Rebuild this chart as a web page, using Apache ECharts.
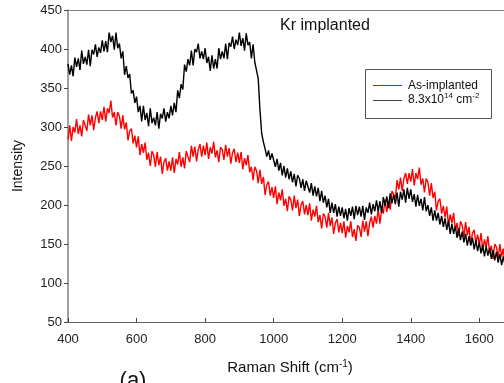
<!DOCTYPE html>
<html>
<head>
<meta charset="utf-8">
<script src="https://cdn.jsdelivr.net/npm/echarts@6/dist/echarts.min.js"></script>
<style>html,body{margin:0;padding:0;background:#fff;overflow:hidden}#c{width:504px;height:383px}</style>
</head>
<body>
<div id="c"></div>
<script>
// Raman shift sampling grid (cm^-1)
const shiftStart = 400;
const shiftStep = 5;
// As-implanted spectrum (red)
const asImplanted = [
284,302,282,300,293, 310,291,302,288,309, 307,295,316,302,315, 296,312,320,305,320,
309,326,307,324,318, 334,312,319,302,319, 314,298,315,297,306, 283,295,298,279,289,
274,288,264,278,267, 280,258,267,250,269, 264,249,268,251,262, 240,255,260,244,256,
244,261,241,259,252, 268,249,261,247,269, 267,255,276,262,275, 256,271,278,262,276,
264,280,259,274,266, 281,261,270,255,274, 271,258,277,262,273, 253,267,272,255,267,
254,268,246,260,251, 264,242,249,232,249, 244,228,245,227,236, 213,226,230,212,223,
209,224,201,216,206, 220,199,208,192,211, 207,193,212,196,207, 186,200,205,188,200,
187,202,180,194,185, 199,178,187,170,189, 185,171,190,173,184, 163,177,182,165,177,
164,179,158,173,165, 179,159,169,154,174, 171,159,180,166,179, 160,177,185,171,186,
176,195,176,195,189, 207,191,205,194,218, 219,209,232,220,235, 218,234,241,227,241,
230,246,225,241,233, 248,226,234,216,234, 229,212,228,209,217, 193,205,208,189,199,
184,198,174,188,177, 190,168,177,160,179, 174,159,178,161,172, 150,164,168,151,162,
149,164,141,156,146, 160,139,148,131,150, 146,132,150,134,144, 123,137,141,124,135,
127
];
// 8.3x10^14 cm^-2 spectrum (black)
const implanted = [
381,367,379,365,389, 377,388,373,398,381, 390,380,399,378,399, 393,406,390,402,395,
411,397,410,396,421, 409,417,399,421,401, 407,388,397,367,378, 363,368,343,347,331,
339,319,327,307,327, 309,318,301,324,305, 312,302,319,298,317, 311,324,307,319,311,
327,315,331,319,347, 337,355,348,380,371, 387,379,398,379,400, 396,407,388,397,387,
401,382,390,372,392, 375,387,375,401,387, 397,388,407,387,408, 403,416,400,412,405,
421,404,414,398,420, 405,409,388,406,383, 384,362,322,292,281, 272,262,270,258,266,
264,249,259,244,254, 238,250,235,247,233, 243,229,240,224,238, 234,222,233,218,231,
229,216,228,212,224, 211,222,205,218,203, 212,197,208,190,203, 190,201,185,198,186,
197,183,195,180,196, 186,198,182,199,187, 198,185,199,181,197, 190,203,188,201,192,
206,192,205,190,210, 199,211,196,215,202, 213,201,216,198,217, 207,220,203,222,208,
220,204,214,198,213, 199,208,193,210,192, 200,186,197,180,193, 180,190,175,186,172,
183,168,180,163,176, 163,173,158,170,155, 166,152,163,148,160, 148,158,143,155,141,
152,138,149,134,147, 135,145,131,142,129, 140,126,137,123,134, 123,132,119,128,117,
121
];
const xTicks = [400, 600, 800, 1000, 1200, 1400, 1600];
const yTicks = [50, 100, 150, 200, 250, 300, 350, 400, 450];
const seriesNames = ['As-implanted', '8.3x10^14 cm^-2'];

function pairs(vals) {
  return vals.map((v, i) => [shiftStart + i * shiftStep, v]);
}

const FONT = '"Liberation Sans", Arial, sans-serif';
const chart = echarts.init(document.getElementById('c'), null, {renderer: 'canvas'});
chart.setOption({
  animation: false,
  backgroundColor: '#fff',
  grid: {left: 68, top: 10, width: 445.6, height: 312, show: false, containLabel: false, outerBoundsMode: 'none'},
  xAxis: [{
    type: 'value', min: 400, max: 1700, interval: 200, position: 'bottom',
    axisLine: {show: true, onZero: false, lineStyle: {color: '#666', width: 1}},
    axisTick: {show: true, inside: true, length: 4, lineStyle: {color: '#444'}},
    axisLabel: {color: '#222', fontSize: 13, fontFamily: FONT, margin: 11, showMaxLabel: false,
      formatter: v => xTicks.indexOf(v) >= 0 ? String(v) : ''},
    splitLine: {show: false}
  }, {
    type: 'value', min: 400, max: 1700, position: 'top',
    axisLine: {show: true, onZero: false, lineStyle: {color: '#808080', width: 1}},
    axisTick: {show: false}, axisLabel: {show: false}, splitLine: {show: false}
  }],
  yAxis: {
    type: 'value', min: 50, max: 450, interval: 50,
    axisLine: {show: true, onZero: false, lineStyle: {color: '#808080', width: 1.5}},
    axisTick: {show: true, inside: false, length: 4, lineStyle: {color: '#444'}},
    axisLabel: {color: '#222', fontSize: 13, fontFamily: FONT, margin: 6,
      formatter: v => yTicks.indexOf(v) >= 0 ? String(v) : ''},
    splitLine: {show: false}
  },
  series: [
    {name: seriesNames[0], type: 'line', data: pairs(asImplanted), showSymbol: false, symbol: 'none',
      lineStyle: {color: '#ff0000', width: 1.4}, z: 2},
    {name: seriesNames[1], type: 'line', data: pairs(implanted), showSymbol: false, symbol: 'none',
      lineStyle: {color: '#000000', width: 1.4}, z: 3}
  ],
  graphic: [
    {type: 'text', x: 325, y: 26, style: {text: 'Kr implanted', fontSize: 16, fontFamily: FONT, fill: '#111', align: 'center', verticalAlign: 'middle'}},
    {type: 'text', x: 18, y: 166, rotation: Math.PI / 2,
      style: {text: 'Intensity', fontSize: 14, fontFamily: FONT, fill: '#111', align: 'center', verticalAlign: 'middle'}},
    {type: 'text', x: 290, y: 368,
      style: {text: '{a|Raman Shift (cm}{s|-1}{a|)}', align: 'center', verticalAlign: 'middle',
        rich: {a: {fontSize: 15, fontFamily: FONT, fill: '#111', color: '#111'},
               s: {fontSize: 10, fontFamily: FONT, fill: '#111', color: '#111', padding: [0, 0, 8, 0]}}}},
    {type: 'text', x: 133, y: 381,
      style: {text: '(a)', fontSize: 22, fontFamily: FONT, fill: '#111', align: 'center', verticalAlign: 'middle'}},
    {type: 'rect', shape: {x: 365.5, y: 69.5, width: 126, height: 49},
      style: {fill: '#fff', stroke: '#555', lineWidth: 1}, z: 10},
    {type: 'line', shape: {x1: 373, y1: 85.5, x2: 402, y2: 85.5}, style: {stroke: '#ff0000', lineWidth: 1}, z: 11},
    {type: 'line', shape: {x1: 373, y1: 100.5, x2: 402, y2: 100.5}, style: {stroke: '#444', lineWidth: 1}, z: 11},
    {type: 'text', x: 408, y: 86, z: 11,
      style: {text: seriesNames[0], fontSize: 12, fontFamily: FONT, fill: '#111', verticalAlign: 'middle'}},
    {type: 'text', x: 408, y: 100, z: 11,
      style: {text: '{a|8.3x10}{s|14}{a| cm}{s|-2}', verticalAlign: 'middle',
        rich: {a: {fontSize: 12, fontFamily: FONT, fill: '#111', color: '#111'},
               s: {fontSize: 8, fontFamily: FONT, fill: '#111', color: '#111', padding: [0, 0, 9, 0]}}}}
  ]
});
</script>
</body>
</html>
